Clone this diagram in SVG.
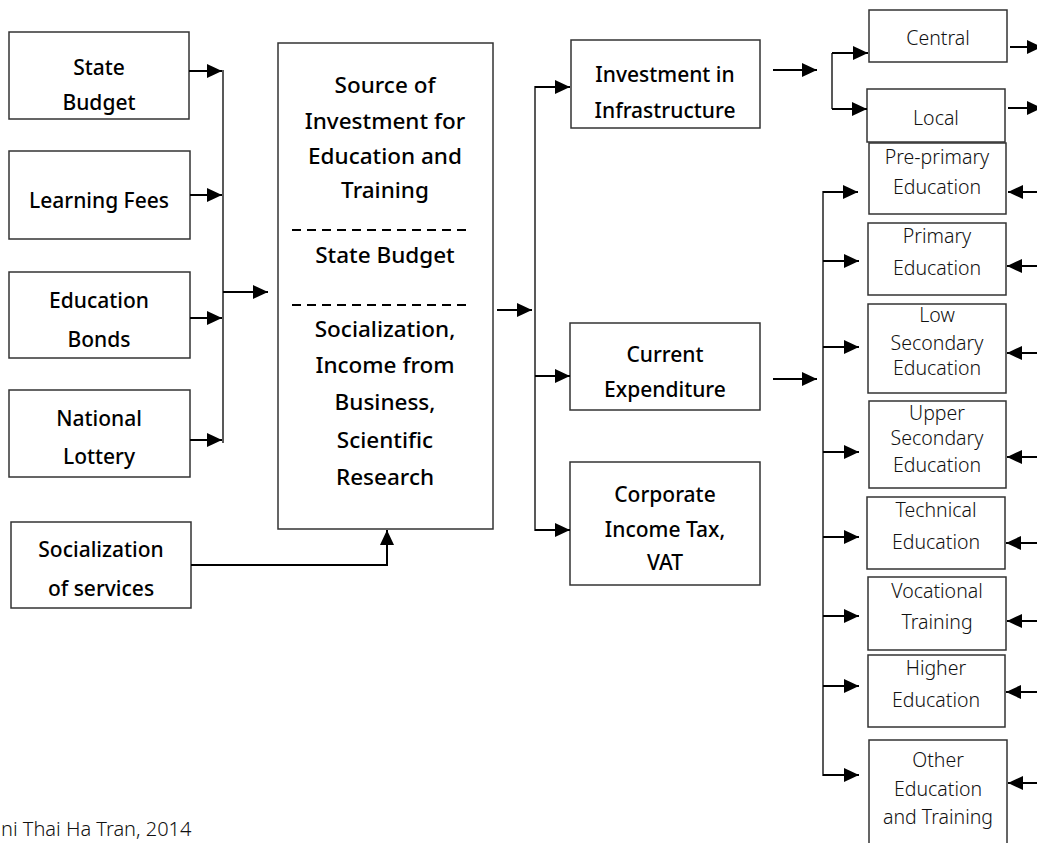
<svg xmlns="http://www.w3.org/2000/svg" width="1037" height="843" viewBox="0 0 1037 843">
<style>
.box{fill:#fff;stroke:#333;stroke-width:1.5}
.t{font-family:"Noto Sans","Open Sans","Liberation Sans",sans-serif;font-size:21px;fill:#000;text-anchor:middle}
.tb{font-weight:500}
.tc{font-size:22.5px}
.ts{font-size:19.5px;font-weight:300;fill:#111}
.c{fill:none;stroke:#000;stroke-width:2}
.v{fill:none;stroke:#222;stroke-width:1.5}
.d{fill:none;stroke:#000;stroke-width:2;stroke-dasharray:9,6}
</style>
<defs>
<marker id="ah" markerUnits="userSpaceOnUse" markerWidth="16" markerHeight="15" refX="15" refY="7" orient="auto">
<path d="M0,0 L15,7 L0,14 Z" fill="#000"/>
</marker>
</defs>
<rect width="1037" height="843" fill="#fff"/>

<g id="state-budget"><rect class="box" x="9" y="32" width="180" height="87"/><text class="t tb" x="99" y="75">State</text><text class="t tb" x="99" y="110">Budget</text></g>
<g id="learning-fees"><rect class="box" x="9" y="151" width="181" height="88"/><text class="t tb" x="99" y="208">Learning Fees</text></g>
<g id="education-bonds"><rect class="box" x="9" y="272" width="181" height="86"/><text class="t tb" x="99" y="308">Education</text><text class="t tb" x="99" y="347">Bonds</text></g>
<g id="national-lottery"><rect class="box" x="9" y="390" width="181" height="87"/><text class="t tb" x="99" y="426">National</text><text class="t tb" x="99" y="464">Lottery</text></g>
<g id="socialization-services"><rect class="box" x="11" y="522" width="180" height="86"/><text class="t tb" x="101" y="557">Socialization</text><text class="t tb" x="101" y="596">of services</text></g>

<g id="source"><rect class="box" x="278" y="43" width="215" height="486"/>
<text class="t tb tc" x="385" y="93">Source of</text>
<text class="t tb tc" x="385" y="129">Investment for</text>
<text class="t tb tc" x="385" y="164">Education and</text>
<text class="t tb tc" x="385" y="198">Training</text>
<line class="d" x1="292" y1="230" x2="472" y2="230"/>
<text class="t tb tc" x="385" y="263">State Budget</text>
<line class="d" x1="292" y1="305" x2="472" y2="305"/>
<text class="t tb tc" x="385" y="337">Socialization,</text>
<text class="t tb tc" x="385" y="373">Income from</text>
<text class="t tb tc" x="385" y="410">Business,</text>
<text class="t tb tc" x="385" y="448">Scientific</text>
<text class="t tb tc" x="385" y="485">Research</text>
</g>

<g id="infrastructure"><rect class="box" x="571" y="40" width="189" height="88"/><text class="t tb" x="665" y="82">Investment in</text><text class="t tb" x="665" y="118">Infrastructure</text></g>
<g id="current"><rect class="box" x="570" y="323" width="190" height="87"/><text class="t tb" x="665" y="362">Current</text><text class="t tb" x="665" y="397">Expenditure</text></g>
<g id="corporate"><rect class="box" x="570" y="462" width="190" height="123"/><text class="t tb" x="665" y="502">Corporate</text><text class="t tb" x="665" y="537">Income Tax,</text><text class="t tb" x="665" y="570">VAT</text></g>

<g id="central"><rect class="box" x="869" y="10" width="138" height="52"/><text class="t ts" x="938" y="45">Central</text></g>
<g id="local"><rect class="box" x="867" y="89" width="138" height="53"/><text class="t ts" x="936" y="125">Local</text></g>
<g id="pre-primary"><rect class="box" x="869" y="143" width="137" height="71"/><text class="t ts" x="937" y="164">Pre-primary</text><text class="t ts" x="937" y="194">Education</text></g>
<g id="primary"><rect class="box" x="868" y="223" width="138" height="72"/><text class="t ts" x="937" y="243">Primary</text><text class="t ts" x="937" y="275">Education</text></g>
<g id="low-secondary"><rect class="box" x="868" y="304" width="138" height="89"/><text class="t ts" x="937" y="322">Low</text><text class="t ts" x="937" y="350">Secondary</text><text class="t ts" x="937" y="375">Education</text></g>
<g id="upper-secondary"><rect class="box" x="869" y="401" width="137" height="87"/><text class="t ts" x="937" y="420">Upper</text><text class="t ts" x="937" y="445">Secondary</text><text class="t ts" x="937" y="472">Education</text></g>
<g id="technical"><rect class="box" x="867" y="497" width="138" height="72"/><text class="t ts" x="936" y="517">Technical</text><text class="t ts" x="936" y="549">Education</text></g>
<g id="vocational"><rect class="box" x="868" y="577" width="138" height="73"/><text class="t ts" x="937" y="598">Vocational</text><text class="t ts" x="937" y="629">Training</text></g>
<g id="higher"><rect class="box" x="868" y="655" width="137" height="72"/><text class="t ts" x="936" y="675">Higher</text><text class="t ts" x="936" y="707">Education</text></g>
<g id="other"><rect class="box" x="869" y="740" width="138" height="110"/><text class="t ts" x="938" y="767">Other</text><text class="t ts" x="938" y="796">Education</text><text class="t ts" x="938" y="824">and Training</text></g>

<g id="connectors">
<line class="c" x1="189" y1="71" x2="222" y2="71" marker-end="url(#ah)"/>
<line class="c" x1="190" y1="195" x2="222" y2="195" marker-end="url(#ah)"/>
<line class="c" x1="190" y1="318" x2="222" y2="318" marker-end="url(#ah)"/>
<line class="c" x1="190" y1="440" x2="222" y2="440" marker-end="url(#ah)"/>
<line class="v" x1="223" y1="70" x2="223" y2="443"/>
<line class="c" x1="223" y1="292" x2="268" y2="292" marker-end="url(#ah)"/>
<polyline class="c" points="191,565 387,565 387,530" marker-end="url(#ah)"/>
<line class="c" x1="497" y1="310" x2="532" y2="310" marker-end="url(#ah)"/>
<line class="v" x1="535" y1="86" x2="535" y2="531"/>
<line class="c" x1="535" y1="87" x2="570" y2="87" marker-end="url(#ah)"/>
<line class="c" x1="535" y1="376" x2="570" y2="376" marker-end="url(#ah)"/>
<line class="c" x1="535" y1="530" x2="570" y2="530" marker-end="url(#ah)"/>
<line class="c" x1="773" y1="70" x2="817" y2="70" marker-end="url(#ah)"/>
<line class="v" x1="832" y1="53" x2="832" y2="109"/>
<line class="c" x1="832" y1="53" x2="868" y2="53" marker-end="url(#ah)"/>
<line class="c" x1="832" y1="109" x2="867" y2="109" marker-end="url(#ah)"/>
<line class="c" x1="1010" y1="47" x2="1042" y2="47" marker-end="url(#ah)"/>
<line class="c" x1="1008" y1="108" x2="1042" y2="108" marker-end="url(#ah)"/>
<line class="c" x1="773" y1="379" x2="817" y2="379" marker-end="url(#ah)"/>
<line class="v" x1="823" y1="191" x2="823" y2="776"/>
<line class="c" x1="823" y1="192" x2="858" y2="192" marker-end="url(#ah)"/>
<line class="c" x1="823" y1="261" x2="859" y2="261" marker-end="url(#ah)"/>
<line class="c" x1="823" y1="347" x2="859" y2="347" marker-end="url(#ah)"/>
<line class="c" x1="823" y1="452" x2="859" y2="452" marker-end="url(#ah)"/>
<line class="c" x1="823" y1="537" x2="859" y2="537" marker-end="url(#ah)"/>
<line class="c" x1="823" y1="616" x2="859" y2="616" marker-end="url(#ah)"/>
<line class="c" x1="823" y1="686" x2="859" y2="686" marker-end="url(#ah)"/>
<line class="c" x1="823" y1="775" x2="859" y2="775" marker-end="url(#ah)"/>
<line class="c" x1="1037" y1="192" x2="1008" y2="192" marker-end="url(#ah)"/>
<line class="c" x1="1037" y1="266" x2="1007" y2="266" marker-end="url(#ah)"/>
<line class="c" x1="1037" y1="353" x2="1007" y2="353" marker-end="url(#ah)"/>
<line class="c" x1="1037" y1="457" x2="1007" y2="457" marker-end="url(#ah)"/>
<line class="c" x1="1037" y1="543" x2="1006" y2="543" marker-end="url(#ah)"/>
<line class="c" x1="1037" y1="621" x2="1007" y2="621" marker-end="url(#ah)"/>
<line class="c" x1="1037" y1="692" x2="1006" y2="692" marker-end="url(#ah)"/>
<line class="c" x1="1037" y1="783" x2="1008" y2="783" marker-end="url(#ah)"/>
</g>

<text x="1" y="836" style="font-family:'Noto Sans','Liberation Sans',sans-serif;font-size:20px;font-weight:300;fill:#111">ni Thai Ha Tran, 2014</text>
</svg>
